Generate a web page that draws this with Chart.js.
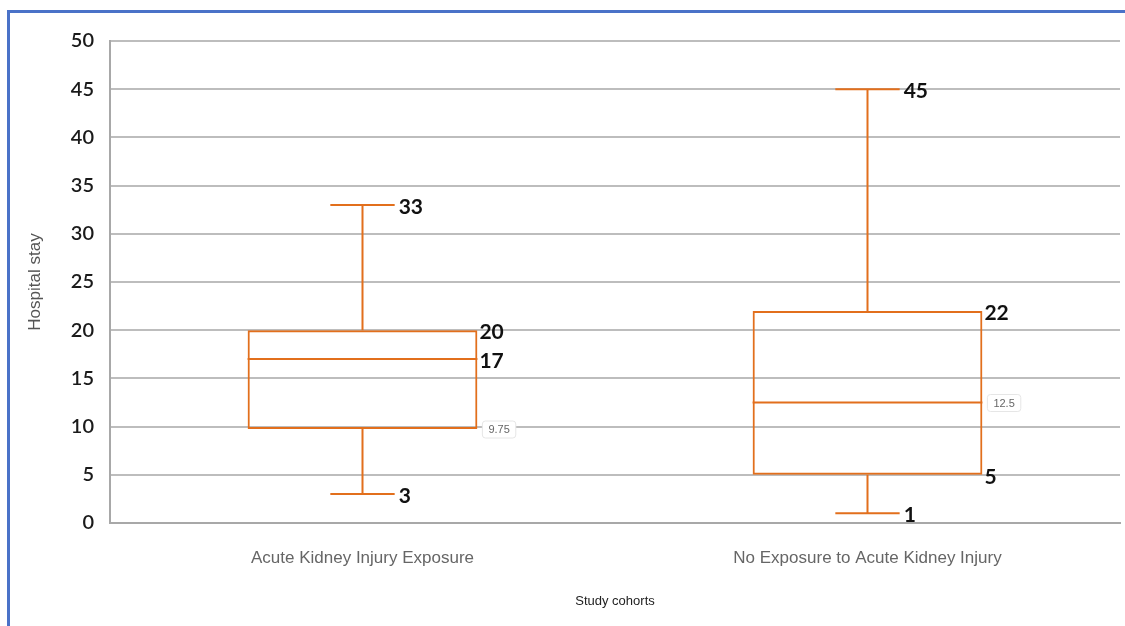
<!DOCTYPE html>
<html>
<head>
<meta charset="utf-8">
<script src="https://cdn.jsdelivr.net/npm/chart.js@4"></script>
<style>
  html, body { margin: 0; padding: 0; background: #fff; }
  #wrap { position: absolute; left: 0; top: 0; width: 1125px; height: 626px; }
  #frame { position: absolute; left: 7px; top: 10px; width: 1125px; height: 626px;
           border-left: 3px solid #4a72c8; border-top: 3px solid #4a72c8; box-sizing: border-box; }
</style>
</head>
<body>
<div id="wrap">
  <div id="frame"></div>
  <canvas id="boxChart" width="1125" height="626"></canvas>
</div>
<script>
// categories and five-number summaries
const categories = ['Acute Kidney Injury Exposure', 'No Exposure to Acute Kidney Injury'];
const minValues = [3, 1];
const q1Values = [9.75, 5];
const medianValues = [17, 12.5];
const q3Values = [20, 22];
const maxValues = [33, 45];
// which of the values are printed as small grey labels instead of the big ones
const smallLabels = [['q1'], ['median']];
const yTicks = [0, 5, 10, 15, 20, 25, 30, 35, 40, 45, 50];

const boxColor = '#e26f1c';

// draws median, whiskers, caps and value labels using the chart's scales
const boxPlotPlugin = {
    id: 'boxPlot',
    afterDatasetsDraw(chart) {
        const ctx = chart.ctx;
        const y = chart.scales.y;
        const meta = chart.getDatasetMeta(0);
        meta.data.forEach((bar, i) => {
            const cx = bar.x;
            const half = bar.width / 2;
            const left = cx - half, right = cx + half;
            const capHalf = bar.width * 0.14;
            const yMin = y.getPixelForValue(minValues[i]);
            const yQ1 = y.getPixelForValue(q1Values[i]);
            const yMed = y.getPixelForValue(medianValues[i]);
            const yQ3 = y.getPixelForValue(q3Values[i]);
            const yMax = y.getPixelForValue(maxValues[i]);

            ctx.save();
            ctx.strokeStyle = boxColor;
            ctx.lineWidth = 2;
            ctx.beginPath();
            // median
            ctx.moveTo(left, yMed); ctx.lineTo(right, yMed);
            // whiskers
            ctx.moveTo(cx, yQ3); ctx.lineTo(cx, yMax);
            ctx.moveTo(cx, yQ1); ctx.lineTo(cx, yMin);
            // caps
            ctx.moveTo(cx - capHalf, yMax); ctx.lineTo(cx + capHalf, yMax);
            ctx.moveTo(cx - capHalf, yMin); ctx.lineTo(cx + capHalf, yMin);
            ctx.stroke();

            const labels = [
                { key: 'max', v: maxValues[i], py: yMax, px: cx + capHalf + 4 },
                { key: 'q3', v: q3Values[i], py: yQ3, px: right + 2 },
                { key: 'median', v: medianValues[i], py: yMed, px: right + 2 },
                { key: 'q1', v: q1Values[i], py: yQ1, px: right + 2 },
                { key: 'min', v: minValues[i], py: yMin, px: cx + capHalf + 4 }
            ];
            ctx.textBaseline = 'middle';
            ctx.textAlign = 'left';
            labels.forEach(l => {
                if (smallLabels[i].includes(l.key)) {
                    ctx.font = '11px "Liberation Sans", Arial, sans-serif';
                    const txt = String(l.v);
                    const w = ctx.measureText(txt).width;
                    ctx.fillStyle = '#fff';
                    ctx.strokeStyle = '#e6e6e6';
                    ctx.lineWidth = 1;
                    ctx.beginPath();
                    ctx.roundRect(l.px + 3, l.py - 8, w + 12, 17, 3);
                    ctx.fill();
                    ctx.stroke();
                    ctx.fillStyle = '#666';
                    ctx.fillText(txt, l.px + 9, l.py + 1);
                } else {
                    ctx.font = 'bold 21px Lato, "Open Sans", sans-serif';
                    ctx.fillStyle = '#111';
                    ctx.fillText(String(l.v), l.px, l.py + 2);
                }
            });
            ctx.restore();
        });
    }
};

new Chart(document.getElementById('boxChart'), {
    type: 'bar',
    data: {
        labels: categories,
        datasets: [{
            label: 'Hospital stay',
            data: categories.map((_, i) => [q1Values[i], q3Values[i]]),
            backgroundColor: 'rgba(0,0,0,0)',
            borderColor: boxColor,
            borderWidth: 2,
            borderSkipped: false,
            categoryPercentage: 1,
            barPercentage: 0.455
        }]
    },
    options: {
        responsive: false,
        animation: false,
        devicePixelRatio: 1,
        layout: { padding: { left: 25, top: 41, right: 5, bottom: 17 } },
        plugins: {
            legend: { display: false },
            tooltip: { enabled: false }
        },
        scales: {
            x: {
                grid: { display: false },
                border: { color: '#a8a8a8', width: 2 },
                ticks: {
                    color: '#666',
                    font: { family: '"Liberation Sans", Arial, sans-serif', size: 17 },
                    padding: 17
                },
                title: {
                    display: true,
                    text: 'Study cohorts',
                    color: '#222',
                    font: { family: '"Liberation Sans", Arial, sans-serif', size: 13 },
                    padding: { top: 8, bottom: 0 }
                }
            },
            y: {
                min: 0,
                max: 50,
                afterBuildTicks: s => { s.ticks = yTicks.map(v => ({ value: v })); },
                grid: { color: '#bdbdbd', lineWidth: 2, drawTicks: false },
                border: { color: '#a8a8a8', width: 2 },
                ticks: {
                    color: '#1a1a1a',
                    font: { family: 'Lato, "Open Sans", sans-serif', size: 20, weight: '600' },
                    padding: 16
                },
                title: {
                    display: true,
                    text: 'Hospital stay',
                    color: '#555',
                    font: { family: '"Liberation Sans", Arial, sans-serif', size: 17 },
                    padding: { top: 0, bottom: 14 }
                },
                afterFit: s => { s.width = 85; }
            }
        }
    },
    plugins: [boxPlotPlugin]
});
</script>
</body>
</html>
